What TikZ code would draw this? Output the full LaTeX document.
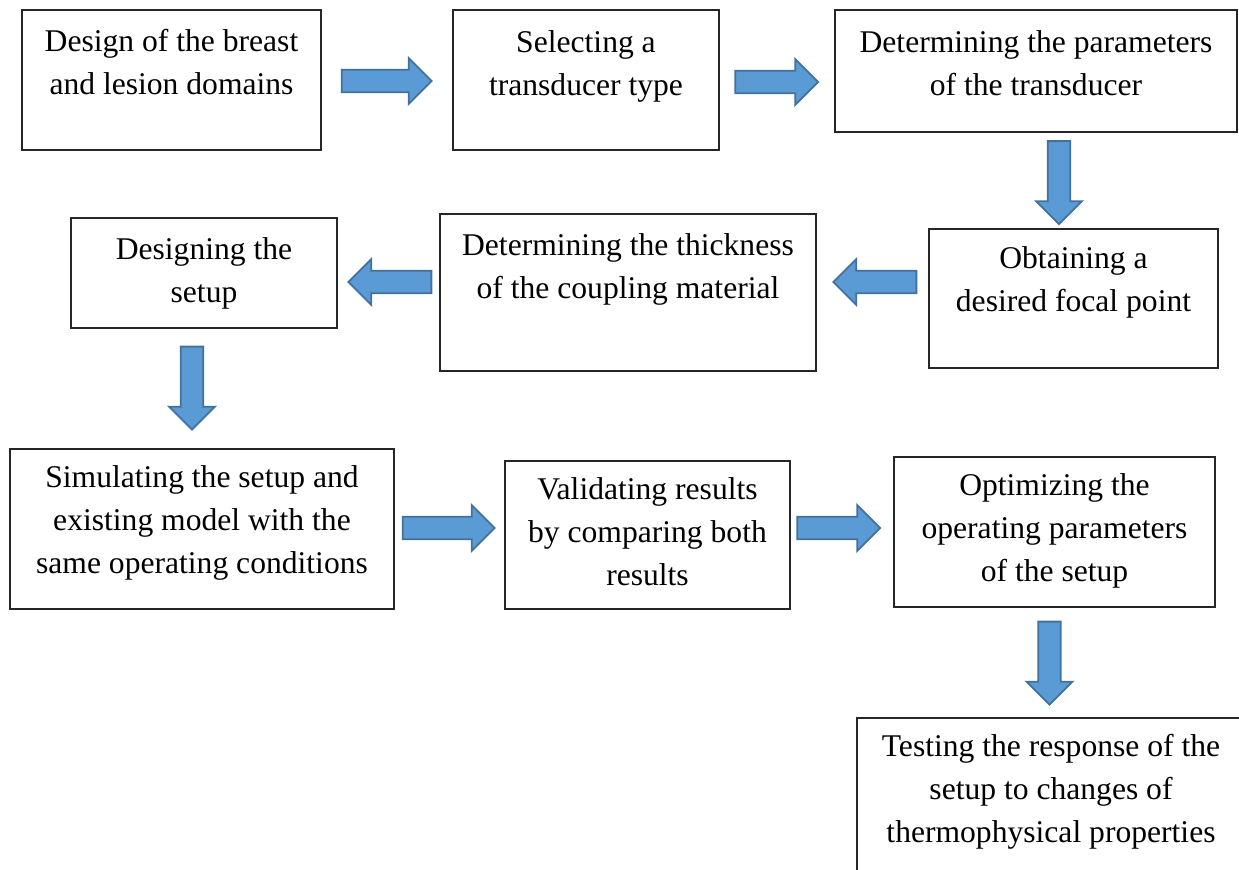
\documentclass[tikz,border=0pt]{standalone}
\usepackage{fontspec}
\setmainfont{Liberation Serif}
\usetikzlibrary{shapes.arrows,fit}

\definecolor{arrowfill}{HTML}{5B9BD5}
\definecolor{arrowline}{HTML}{41719C}

\tikzset{
    stepbox/.style={draw=black!85,line width=0.8pt,inner sep=0pt},
    steptext/.style={align=center,inner sep=0pt,font=\fontsize{15.8pt}{21.5pt}\selectfont},
    fatarrow/.style={single arrow,draw=arrowline,fill=arrowfill,line width=0.9pt,
        inner sep=5.2pt,minimum height=41.5pt,single arrow head extend=5.8pt}
}

\begin{document}
\begin{tikzpicture}[x=0.5pt,y=-0.5pt]
    \useasboundingbox (0,0) rectangle (1239,870);
    \clip (0,0) rectangle (1239,870);

    % boxes
    \node[stepbox,fit={(22,10) (321,150)}]    (design)   {};
    \node[stepbox,fit={(453,10) (719,150)}]   (select)   {};
    \node[stepbox,fit={(835,10) (1237,132)}]  (params)   {};
    \node[stepbox,fit={(929,229) (1218,368)}] (focal)    {};
    \node[stepbox,fit={(440,214) (816,371)}]  (thick)    {};
    \node[stepbox,fit={(71,218) (337,328)}]   (setup)    {};
    \node[stepbox,fit={(10,449) (394,609)}]   (simulate) {};
    \node[stepbox,fit={(505,461) (790,609)}]  (validate) {};
    \node[stepbox,fit={(894,457) (1215,607)}] (optimize) {};
    \node[stepbox,fit={(857,718) (1245,880)}] (testing)  {};

    % texts
    \node[steptext] (designT)   at (171.5,62)  {Design of the breast\\and lesion domains};
    \node[steptext] (selectT)   at (586,66)    {Selecting a\\transducer type};
    \node[steptext] (paramsT)   at (1036,63)   {Determining the parameters\\of the transducer};
    \node[steptext] (focalT)    at (1073.5,282) {Obtaining a\\desired focal point};
    \node[steptext] (thickT)    at (628,269)   {Determining the thickness\\of the coupling material};
    \node[steptext] (setupT)    at (204,273)   {Designing the\\setup};
    \node[steptext] (simulateT) at (202,523)   {Simulating the setup and\\existing model with the\\same operating conditions};
    \node[steptext] (validateT) at (647.5,532) {Validating results\\by comparing both\\results};
    \node[steptext] (optimizeT) at (1054.5,531) {Optimizing the\\operating parameters\\of the setup};
    \node[steptext] (testingT)  at (1051,792)  {Testing the response of the\\setup to changes of\\thermophysical properties};

    % block arrows
    \node[fatarrow,minimum height=45pt] (a1) at (381,81) {};
    \node[fatarrow] (a2) at (771,82) {};
    \node[fatarrow,shape border rotate=270] (a3) at (1059,177) {};
    \node[fatarrow,shape border rotate=180] (a4) at (880.5,282) {};
    \node[fatarrow,shape border rotate=180] (a5) at (395.5,282) {};
    \node[fatarrow,shape border rotate=270] (a6) at (192,382.5) {};
    \node[fatarrow,minimum height=46pt] (a7) at (443,528) {};
    \node[fatarrow] (a8) at (833,528) {};
    \node[fatarrow,shape border rotate=270] (a9) at (1049.5,657.5) {};
\end{tikzpicture}
\end{document}
